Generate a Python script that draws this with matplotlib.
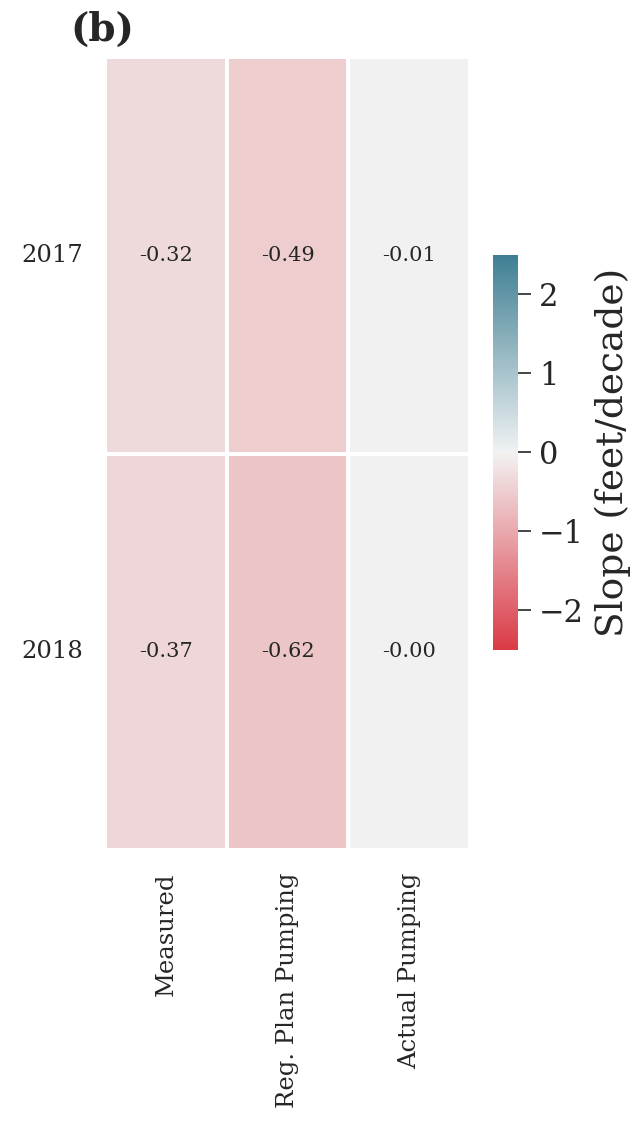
import numpy as np
import pandas as pd
import seaborn as sns
import matplotlib
matplotlib.use("Agg")
import matplotlib.pyplot as plt

# valeurs
years = ["2017", "2018"]
scenarios = ["Measured", "Reg. Plan Pumping", "Actual Pumping"]
slope_2017 = [-0.32, -0.49, -0.01]
slope_2018 = [-0.37, -0.62, -0.004]

df = pd.DataFrame([slope_2017, slope_2018], index=years, columns=scenarios)

sns.set_style("white")
plt.rcParams["font.family"] = ["DejaVu Serif"]
plt.rcParams["text.color"] = "#262626"
plt.rcParams["xtick.color"] = "#262626"
plt.rcParams["ytick.color"] = "#262626"

fig = plt.figure(figsize=(6.33, 11.21), dpi=100)
ax = fig.add_axes([105 / 633, 1 - 850 / 1121, 365 / 633, 793 / 1121])
cax = fig.add_axes([493 / 633, 1 - 650 / 1121, 25 / 633, 395 / 1121])

cmap = sns.diverging_palette(10, 220, as_cmap=True)
sns.heatmap(df, ax=ax, cbar_ax=cax, cmap=cmap, vmin=-2.5, vmax=2.5,
            annot=True, fmt=".2f", annot_kws={"size": 15, "color": "#262626"},
            linewidths=1.5, linecolor="white",
            cbar_kws={"label": "Slope (feet/decade)", "ticks": [-2, -1, 0, 1, 2]})

ax.tick_params(axis="both", length=0, labelsize=17.5, pad=16)
ax.set_xticklabels(scenarios, rotation=90)
ax.set_yticklabels(years, rotation=0)
ax.set_xlabel("")
ax.set_ylabel("")

cax.tick_params(labelsize=22, length=9, width=1.2, pad=6, color="#262626")
cax.yaxis.label.set_size(27)
cax.yaxis.labelpad = 8
for s in cax.spines.values():
    s.set_visible(False)

fig.text(70 / 633, 1 - 30 / 1121, "(b)", fontsize=28, fontweight="bold",
         va="center", ha="left")

fig.savefig("out.png", dpi=100)
